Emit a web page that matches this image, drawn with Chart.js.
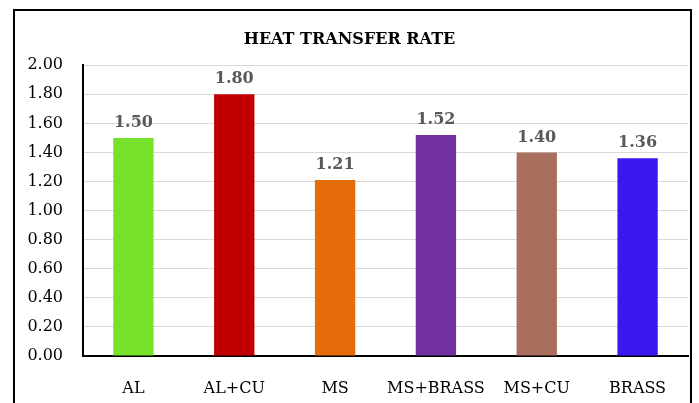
<!DOCTYPE html>
<html>
<head>
<meta charset="utf-8">
<script src="https://cdn.jsdelivr.net/npm/chart.js@4"></script>
<style>
  html, body { margin: 0; padding: 0; background: #fff; overflow: hidden; }
  #wrap { position: relative; width: 699px; height: 403px; }
  #frame { position: absolute; left: 13px; top: 9px; width: 675px; height: 420px; border: 2px solid #000; box-sizing: content-box; }
  canvas { position: absolute; left: 0; top: 0; }
</style>
</head>
<body>
<div id="wrap">
  <div id="frame"></div>
  <canvas id="c" width="699" height="403"></canvas>
</div>
<script>
const categories = ["AL", "AL+CU", "MS", "MS+BRASS", "MS+CU", "BRASS"];
const heatTransferRate = [1.50, 1.80, 1.21, 1.52, 1.40, 1.36];
const barColors = ["#76e22a", "#c00000", "#e46c0a", "#7030a0", "#a86f5f", "#3a18f2"];
const yTicks = [0, 0.2, 0.4, 0.6, 0.8, 1.0, 1.2, 1.4, 1.6, 1.8, 2.0];

const serif = "'DejaVu Serif', 'Liberation Serif', serif";

// Writes each bar's value above it
const valueLabels = {
  id: "valueLabels",
  afterDatasetsDraw(chart) {
    const ctx = chart.ctx;
    const meta = chart.getDatasetMeta(0);
    ctx.save();
    ctx.font = "bold 16px " + serif;
    ctx.fillStyle = "#595959";
    ctx.textAlign = "center";
    ctx.textBaseline = "bottom";
    meta.data.forEach((bar, i) => {
      ctx.fillText(heatTransferRate[i].toFixed(2), bar.x, bar.y - 7);
    });
    ctx.restore();
  }
};

new Chart(document.getElementById("c"), {
  type: "bar",
  data: {
    labels: categories,
    datasets: [{
      data: heatTransferRate,
      backgroundColor: barColors,
      borderWidth: 0,
      barPercentage: 0.4,
      categoryPercentage: 1.0
    }]
  },
  options: {
    responsive: false,
    animation: false,
    layout: { padding: { left: 11, right: 11, top: 0, bottom: 0 } },
    plugins: {
      legend: { display: false },
      tooltip: { enabled: false },
      title: {
        display: true,
        text: "HEAT TRANSFER RATE",
        color: "#000",
        font: { family: serif, size: 16, weight: "bold" },
        padding: { top: 30, bottom: 16 }
      }
    },
    scales: {
      x: {
        grid: { display: false, drawTicks: false },
        border: { display: true, color: "#000", width: 2 },
        ticks: { color: "#000", font: { family: serif, size: 16 }, padding: 23, maxRotation: 0 },
        afterFit(scale) { scale.height = 47; }
      },
      y: {
        min: 0,
        max: 2,
        afterBuildTicks(scale) { scale.ticks = yTicks.map(v => ({ value: v })); },
        grid: { color: "#d9d9d9", lineWidth: 1, drawTicks: false },
        border: { display: true, color: "#000", width: 2 },
        ticks: {
          color: "#000",
          font: { family: serif, size: 16 },
          padding: 20,
          callback: v => Number(v).toFixed(2)
        },
        afterFit(scale) { scale.width = 72; }
      }
    }
  },
  plugins: [valueLabels]
});
</script>
</body>
</html>
